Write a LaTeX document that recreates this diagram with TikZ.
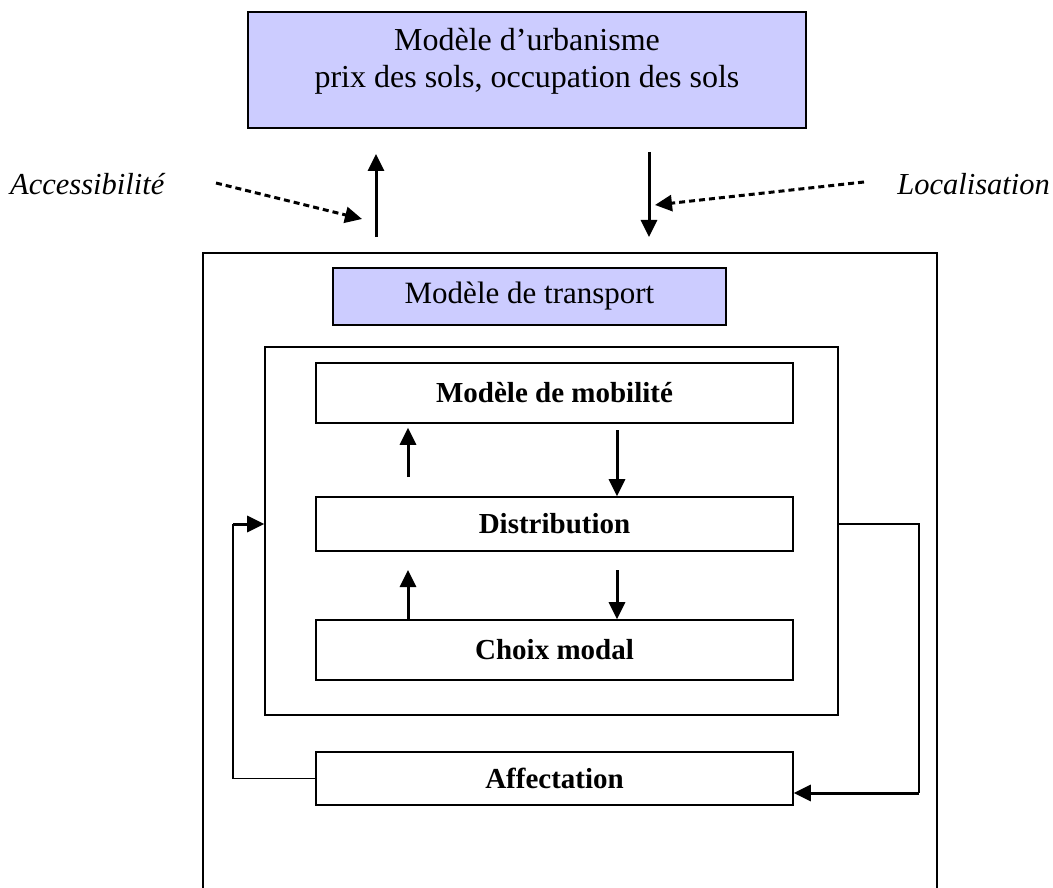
\documentclass[tikz,border=0pt]{standalone}
\usepackage{fontspec}
\setmainfont{Liberation Serif}
\usetikzlibrary{arrows.meta}
\definecolor{lav}{HTML}{CCCCFF}
\begin{document}
\begin{tikzpicture}[x=1pt,y=-1pt,
  box/.style={draw, line width=1.6pt, inner sep=0pt, minimum width=#1},
  box/.default=477pt,
  tip/.style={-{Triangle[length=17pt,width=16pt]}},
  arr/.style={line width=3pt, tip},
  thin line/.style={line width=1.6pt},
  dasharr/.style={line width=3pt, dash pattern=on 6pt off 4pt, tip},
  reg/.style={font=\fontsize{32}{37}\selectfont},
  trn/.style={font=\fontsize{31}{37}\selectfont},
  bld/.style={font=\fontsize{29}{34}\selectfont\bfseries},
  itl/.style={font=\fontsize{30.5}{34}\selectfont\itshape}]
\useasboundingbox (0,0) rectangle (1053,888);
% top box
\node[box=558pt, fill=lav, minimum height=116pt] (urb) at (527,70) {};
\node[reg, align=center, anchor=base, inner sep=0pt] (urbt) at (527,88) {Modèle d’urbanisme\\prix des sols, occupation des sols};
% side labels
\node[itl, anchor=base west, inner sep=0pt] (acc) at (10,195) {Accessibilité};
\node[itl, anchor=base east, inner sep=0pt] (loc) at (1050,195) {Localisation};
% outer box
\node[box=734pt, minimum height=660pt] (outer) at (570,583) {};
% transport box
\node[box=393pt, fill=lav, minimum height=57pt, trn] (trans) at (529.5,296.5) {Modèle de transport};
% inner box
\node[box=573pt, minimum height=368pt] (inner) at (551.5,531) {};
% stage boxes
\node[box, minimum height=60pt, bld] (mob) at (554.5,393) {Modèle de mobilité};
\node[box, minimum height=54pt, bld] (dist) at (554.5,524) {Distribution};
\node[box, minimum height=60pt, bld] (choix) at (554.5,650) {Choix modal};
\node[box, minimum height=53pt, bld] (aff) at (554.5,778.5) {Affectation};
% main vertical arrows
\coordinate (upS) at (376,237);
\coordinate (upE) at (376,154);
\coordinate (dnS) at (649,152);
\coordinate (dnE) at (649,237);
\draw[arr] (upS) -- (upE);
\draw[arr] (dnS) -- (dnE);
% dashed arrows
\coordinate (accS) at (216,183);
\coordinate (accE) at (362,219);
\coordinate (locS) at (864,182);
\coordinate (locE) at (655,205);
\draw[dasharr] (accS) -- (accE);
\draw[dasharr] (locS) -- (locE);
% inner arrows
\coordinate (a1) at (408,477);
\coordinate (a2) at (617,430);
\coordinate (a3) at (408,570);
\coordinate (a4) at (617,570);
\draw[arr] (a1) -- ([yshift=-4pt]mob.south -| a1);
\draw[arr] (a2) -- (dist.north -| a2);
\draw[arr] (choix.north -| a3) -- (a3);
\draw[arr] (a4) -- (choix.north -| a4);
% feedback loops
\coordinate (lc) at (233,524);
\coordinate (rc) at (919,793);
\draw[thin line] (aff.west) -| (lc);
\draw[arr] (lc) -- (inner.west |- lc);
\draw[thin line] (inner.east |- dist.center) -| (rc);
\draw[arr] (rc) -- (aff.east |- rc);
\end{tikzpicture}
\end{document}
